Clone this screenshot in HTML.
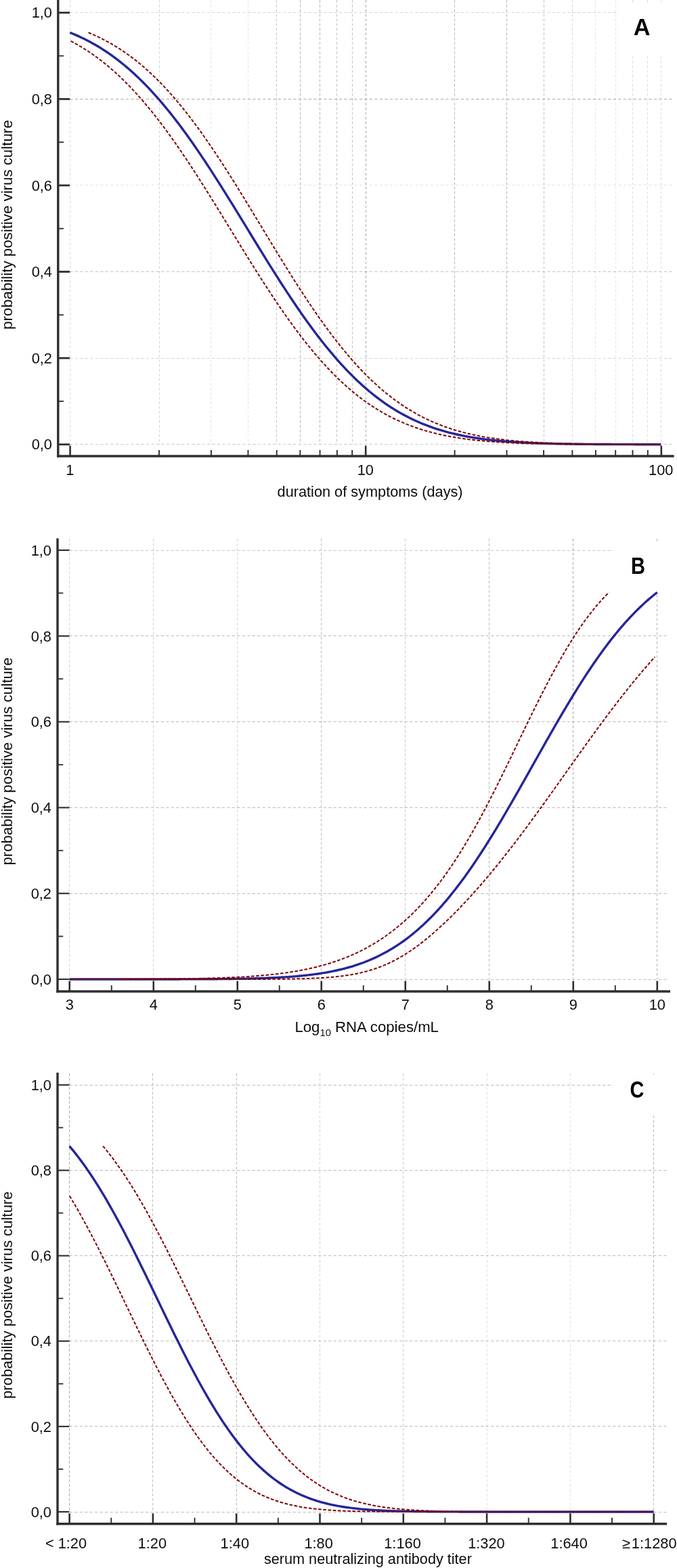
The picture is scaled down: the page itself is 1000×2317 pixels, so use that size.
<!DOCTYPE html>
<html lang="en"><head><meta charset="utf-8"><title>Probability of positive virus culture</title>
<style>
html,body{margin:0;padding:0;background:#fff;}
body{width:1000px;height:2317px;overflow:hidden;}
svg{display:block;font-family:"Liberation Sans",Arial,sans-serif;fill:#0c0c0c;}
</style></head><body>
<svg width="1000" height="2317" viewBox="0 0 1000 2317">
<rect width="1000" height="2317" fill="#fff"/>
<line x1="103.30" y1="656.50" x2="993.50" y2="656.50" stroke="#a8a8a8" stroke-width="1" stroke-dasharray="4.2 3.3" opacity="0.6"/>
<line x1="103.30" y1="529.50" x2="993.50" y2="529.50" stroke="#a8a8a8" stroke-width="1" stroke-dasharray="4.2 3.3" opacity="0.5"/>
<line x1="103.30" y1="401.50" x2="993.50" y2="401.50" stroke="#a8a8a8" stroke-width="1" stroke-dasharray="4.2 3.3" opacity="0.7"/>
<line x1="103.30" y1="273.50" x2="993.50" y2="273.50" stroke="#a8a8a8" stroke-width="1" stroke-dasharray="4.2 3.3" opacity="0.3"/>
<line x1="103.30" y1="146.50" x2="993.50" y2="146.50" stroke="#a8a8a8" stroke-width="1" stroke-dasharray="4.2 3.3" opacity="1"/>
<line x1="103.30" y1="18.50" x2="993.50" y2="18.50" stroke="#a8a8a8" stroke-width="1" stroke-dasharray="4.2 3.3" opacity="0.5"/>
<line x1="103.50" y1="0.00" x2="103.50" y2="656.75" stroke="#a8a8a8" stroke-width="1" stroke-dasharray="3.9 3" opacity="0.4"/>
<line x1="235.50" y1="0.00" x2="235.50" y2="656.75" stroke="#a8a8a8" stroke-width="1" stroke-dasharray="3.9 3" opacity="0.5"/>
<line x1="311.50" y1="0.00" x2="311.50" y2="656.75" stroke="#a8a8a8" stroke-width="1" stroke-dasharray="3.9 3" opacity="0.3"/>
<line x1="366.50" y1="0.00" x2="366.50" y2="656.75" stroke="#a8a8a8" stroke-width="1" stroke-dasharray="3.9 3" opacity="0.3"/>
<line x1="408.50" y1="0.00" x2="408.50" y2="656.75" stroke="#a8a8a8" stroke-width="1" stroke-dasharray="3.9 3" opacity="0.7"/>
<line x1="443.50" y1="0.00" x2="443.50" y2="656.75" stroke="#a8a8a8" stroke-width="1" stroke-dasharray="3.9 3" opacity="0.85"/>
<line x1="472.50" y1="0.00" x2="472.50" y2="656.75" stroke="#a8a8a8" stroke-width="1" stroke-dasharray="3.9 3" opacity="0.85"/>
<line x1="497.50" y1="0.00" x2="497.50" y2="656.75" stroke="#a8a8a8" stroke-width="1" stroke-dasharray="3.9 3" opacity="0.7"/>
<line x1="520.50" y1="0.00" x2="520.50" y2="656.75" stroke="#a8a8a8" stroke-width="1" stroke-dasharray="3.9 3" opacity="0.7"/>
<line x1="540.50" y1="0.00" x2="540.50" y2="656.75" stroke="#a8a8a8" stroke-width="1" stroke-dasharray="3.9 3" opacity="1"/>
<line x1="671.50" y1="0.00" x2="671.50" y2="656.75" stroke="#a8a8a8" stroke-width="1" stroke-dasharray="3.9 3" opacity="0.85"/>
<line x1="748.50" y1="0.00" x2="748.50" y2="656.75" stroke="#a8a8a8" stroke-width="1" stroke-dasharray="3.9 3" opacity="0.85"/>
<line x1="803.50" y1="0.00" x2="803.50" y2="656.75" stroke="#a8a8a8" stroke-width="1" stroke-dasharray="3.9 3" opacity="0.7"/>
<line x1="845.50" y1="0.00" x2="845.50" y2="656.75" stroke="#a8a8a8" stroke-width="1" stroke-dasharray="3.9 3" opacity="0.45"/>
<line x1="879.50" y1="0.00" x2="879.50" y2="656.75" stroke="#a8a8a8" stroke-width="1" stroke-dasharray="3.9 3" opacity="0.3"/>
<line x1="909.50" y1="0.00" x2="909.50" y2="656.75" stroke="#a8a8a8" stroke-width="1" stroke-dasharray="3.9 3" opacity="0.3"/>
<line x1="934.50" y1="0.00" x2="934.50" y2="656.75" stroke="#a8a8a8" stroke-width="1" stroke-dasharray="3.9 3" opacity="0.4"/>
<line x1="956.50" y1="0.00" x2="956.50" y2="656.75" stroke="#a8a8a8" stroke-width="1" stroke-dasharray="3.9 3" opacity="0.4"/>
<line x1="976.50" y1="0.00" x2="976.50" y2="656.75" stroke="#a8a8a8" stroke-width="1" stroke-dasharray="3.9 3" opacity="0.4"/>
<rect x="912" y="4" width="88" height="75.5" fill="#fff"/>
<polyline points="103.30,48.16 106.67,49.52 110.04,50.93 113.41,52.39 116.78,53.91 120.15,55.47 123.52,57.09 126.89,58.77 130.27,60.51 133.64,62.30 137.01,64.15 140.38,66.06 143.75,68.03 147.12,70.06 150.49,72.16 153.86,74.32 157.23,76.54 160.60,78.83 163.97,81.19 167.34,83.61 170.71,86.10 174.08,88.66 177.45,91.29 180.83,93.99 184.20,96.75 187.57,99.59 190.94,102.50 194.31,105.48 197.68,108.54 201.05,111.66 204.42,114.86 207.79,118.13 211.16,121.47 214.53,124.89 217.90,128.37 221.27,131.93 224.64,135.56 228.01,139.27 231.38,143.04 234.76,146.89 238.13,150.81 241.50,154.79 244.87,158.85 248.24,162.97 251.61,167.17 254.98,171.43 258.35,175.75 261.72,180.14 265.09,184.59 268.46,189.11 271.83,193.69 275.20,198.33 278.57,203.02 281.94,207.78 285.32,212.58 288.69,217.45 292.06,222.36 295.43,227.33 298.80,232.34 302.17,237.40 305.54,242.50 308.91,247.65 312.28,252.84 315.65,258.07 319.02,263.33 322.39,268.62 325.76,273.95 329.13,279.31 332.50,284.69 335.88,290.10 339.25,295.53 342.62,300.98 345.99,306.45 349.36,311.93 352.73,317.43 356.10,322.93 359.47,328.44 362.84,333.96 366.21,339.47 369.58,344.99 372.95,350.50 376.32,356.01 379.69,361.51 383.06,367.00 386.44,372.47 389.81,377.93 393.18,383.37 396.55,388.78 399.92,394.18 403.29,399.54 406.66,404.88 410.03,410.19 413.40,415.47 416.77,420.71 420.14,425.91 423.51,431.07 426.88,436.19 430.25,441.27 433.62,446.30 436.99,451.28 440.37,456.22 443.74,461.10 447.11,465.93 450.48,470.70 453.85,475.42 457.22,480.08 460.59,484.68 463.96,489.22 467.33,493.70 470.70,498.11 474.07,502.46 477.44,506.74 480.81,510.96 484.18,515.11 487.55,519.19 490.93,523.21 494.30,527.15 497.67,531.02 501.04,534.82 504.41,538.56 507.78,542.21 511.15,545.80 514.52,549.32 517.89,552.76 521.26,556.13 524.63,559.42 528.00,562.65 531.37,565.80 534.74,568.88 538.11,571.89 541.49,574.83 544.86,577.69 548.23,580.48 551.60,583.21 554.97,585.86 558.34,588.45 561.71,590.96 565.08,593.41 568.45,595.79 571.82,598.11 575.19,600.35 578.56,602.54 581.93,604.66 585.30,606.71 588.67,608.71 592.05,610.64 595.42,612.51 598.79,614.33 602.16,616.08 605.53,617.78 608.90,619.43 612.27,621.01 615.64,622.55 619.01,624.03 622.38,625.46 625.75,626.84 629.12,628.17 632.49,629.45 635.86,630.69 639.23,631.88 642.61,633.02 645.98,634.12 649.35,635.18 652.72,636.20 656.09,637.18 659.46,638.12 662.83,639.02 666.20,639.88 669.57,640.71 672.94,641.51 676.31,642.27 679.68,643.00 683.05,643.70 686.42,644.36 689.79,645.00 693.16,645.61 696.54,646.20 699.91,646.75 703.28,647.28 706.65,647.79 710.02,648.27 713.39,648.73 716.76,649.17 720.13,649.59 723.50,649.99 726.87,650.37 730.24,650.73 733.61,651.07 736.98,651.39 740.35,651.70 743.72,651.99 747.10,652.27 750.47,652.53 753.84,652.78 757.21,653.02 760.58,653.24 763.95,653.45 767.32,653.65 770.69,653.84 774.06,654.02 777.43,654.19 780.80,654.35 784.17,654.50 787.54,654.64 790.91,654.78 794.28,654.90 797.66,655.02 801.03,655.14 804.40,655.24 807.77,655.34 811.14,655.43 814.51,655.52 817.88,655.60 821.25,655.68 824.62,655.75 827.99,655.82 831.36,655.88 834.73,655.94 838.10,656.00 841.47,656.05 844.84,656.10 848.22,656.15 851.59,656.19 854.96,656.23 858.33,656.27 861.70,656.30 865.07,656.33 868.44,656.36 871.81,656.39 875.18,656.42 878.55,656.44 881.92,656.47 885.29,656.49 888.66,656.51 892.03,656.53 895.40,656.54 898.77,656.56 902.15,656.57 905.52,656.59 908.89,656.60 912.26,656.61 915.63,656.62 919.00,656.63 922.37,656.64 925.74,656.65 929.11,656.66 932.48,656.67 935.85,656.67 939.22,656.68 942.59,656.68 945.96,656.69 949.33,656.70 952.71,656.70 956.08,656.70 959.45,656.71 962.82,656.71 966.19,656.71 969.56,656.72 972.93,656.72 976.30,656.72" fill="none" stroke="#262699" stroke-width="3.4" stroke-linejoin="round" />
<polyline points="104.49,60.57 107.93,62.40 111.38,64.29 114.83,66.25 118.28,68.27 121.72,70.35 125.17,72.50 128.62,74.71 132.07,77.00 135.51,79.35 138.96,81.77 142.41,84.26 145.86,86.82 149.30,89.45 152.75,92.15 156.20,94.93 159.65,97.78 163.09,100.70 166.54,103.70 169.99,106.77 173.43,109.92 176.88,113.14 180.33,116.44 183.78,119.82 187.22,123.26 190.67,126.79 194.12,130.39 197.56,134.06 201.01,137.81 204.46,141.64 207.90,145.54 211.35,149.51 214.80,153.56 218.24,157.67 221.69,161.86 225.14,166.12 228.58,170.45 232.03,174.85 235.48,179.32 238.92,183.85 242.37,188.45 245.82,193.12 249.26,197.84 252.71,202.63 256.15,207.48 259.60,212.38 263.05,217.34 266.49,222.35 269.94,227.42 273.39,232.54 276.83,237.70 280.28,242.92 283.72,248.17 287.17,253.47 290.62,258.81 294.06,264.19 297.51,269.60 300.95,275.04 304.40,280.51 307.85,286.01 311.29,291.54 314.74,297.09 318.18,302.65 321.63,308.24 325.07,313.84 328.52,319.45 331.96,325.07 335.41,330.69 338.86,336.32 342.30,341.95 345.75,347.58 349.19,353.20 352.64,358.82 356.08,364.42 359.53,370.02 362.97,375.59 366.42,381.15 369.86,386.69 373.31,392.20 376.75,397.69 380.20,403.15 383.64,408.57 387.09,413.97 390.53,419.32 393.98,424.64 397.42,429.92 400.87,435.16 404.31,440.35 407.76,445.49 411.20,450.58 414.65,455.62 418.09,460.61 421.54,465.54 424.98,470.42 428.43,475.24 431.87,479.99 435.31,484.69 438.76,489.32 442.20,493.89 445.65,498.39 449.09,502.82 452.54,507.19 455.98,511.48 459.42,515.71 462.87,519.86 466.31,523.95 469.76,527.96 473.20,531.89 476.64,535.75 480.09,539.54 483.53,543.26 486.98,546.89 490.42,550.46 493.86,553.94 497.31,557.36 500.75,560.69 504.20,563.95 507.64,567.14 511.08,570.25 514.53,573.29 517.97,576.25 521.41,579.13 524.86,581.95 528.30,584.69 531.74,587.36 535.19,589.95 538.63,592.48 542.07,594.93 545.52,597.32 548.96,599.64 552.40,601.88 555.85,604.07 559.29,606.18 562.73,608.23 566.18,610.22 569.62,612.15 573.06,614.01 576.51,615.81 579.95,617.55 583.39,619.23 586.83,620.86 590.28,622.43 593.72,623.95 597.16,625.41 600.61,626.82 604.05,628.18 607.49,629.48 610.93,630.74 614.38,631.95 617.82,633.12 621.26,634.24 624.70,635.31 628.15,636.35 631.59,637.34 635.03,638.29 638.47,639.20 641.92,640.08 645.36,640.92 648.80,641.72 652.24,642.49 655.68,643.22 659.13,643.92 662.57,644.59 666.01,645.23 669.45,645.85 672.89,646.43 676.34,646.99 679.78,647.52 683.22,648.02 686.66,648.51 690.10,648.96 693.55,649.40 696.99,649.81 700.43,650.21 703.87,650.58 707.31,650.94 710.75,651.28 714.20,651.60 717.64,651.90 721.08,652.19 724.52,652.46 727.96,652.72 731.40,652.96 734.84,653.20 738.29,653.41 741.73,653.62 745.17,653.82 748.61,654.00 752.05,654.17 755.49,654.34 758.93,654.49 762.37,654.64 765.81,654.77 769.25,654.90 772.70,655.02 776.14,655.14 779.58,655.25 783.02,655.35 786.46,655.44 789.90,655.53 793.34,655.61 796.78,655.69 800.22,655.76 803.66,655.83 807.10,655.90 810.54,655.96 813.98,656.01 817.42,656.07 820.86,656.11 824.30,656.16 827.74,656.20 831.18,656.24 834.63,656.28 838.07,656.31 841.51,656.35 844.95,656.38 848.39,656.40 851.83,656.43 855.27,656.45 858.71,656.48 862.15,656.50 865.59,656.52 869.03,656.54 872.47,656.55 875.90,656.57 879.34,656.58 882.78,656.60 886.22,656.61 889.66,656.62 893.10,656.63 896.54,656.64 899.98,656.65 903.42,656.66 906.86,656.66 910.30,656.67 913.74,656.68 917.18,656.68 920.62,656.69 924.06,656.69 927.50,656.70 930.94,656.70 934.38,656.71 937.81,656.71 941.25,656.71 944.69,656.72 948.13,656.72 951.57,656.72 955.01,656.73 958.45,656.73 961.89,656.73 965.33,656.73 968.76,656.73 972.20,656.73 975.64,656.74" fill="none" stroke="#800000" stroke-width="2" stroke-linejoin="round" stroke-dasharray="4.7 2.5"/>
<polyline points="130.50,48.16 133.80,49.52 137.09,50.93 140.39,52.39 143.68,53.91 146.98,55.47 150.28,57.09 153.57,58.77 156.87,60.51 160.17,62.30 163.47,64.15 166.77,66.06 170.06,68.03 173.36,70.06 176.66,72.16 179.96,74.32 183.26,76.54 186.56,78.83 189.87,81.19 193.17,83.61 196.47,86.10 199.77,88.66 203.08,91.29 206.38,93.99 209.68,96.75 212.99,99.59 216.29,102.50 219.60,105.48 222.90,108.54 226.21,111.66 229.52,114.86 232.82,118.13 236.13,121.47 239.44,124.89 242.75,128.37 246.06,131.93 249.37,135.56 252.68,139.27 255.99,143.04 259.30,146.89 262.61,150.81 265.92,154.79 269.23,158.85 272.54,162.97 275.86,167.17 279.17,171.43 282.49,175.75 285.80,180.14 289.12,184.59 292.43,189.11 295.75,193.69 299.07,198.33 302.38,203.02 305.70,207.78 309.02,212.58 312.34,217.45 315.66,222.36 318.98,227.33 322.30,232.34 325.62,237.40 328.94,242.50 332.27,247.65 335.59,252.84 338.91,258.07 342.24,263.33 345.56,268.62 348.89,273.95 352.21,279.31 355.54,284.69 358.87,290.10 362.19,295.53 365.52,300.98 368.85,306.45 372.18,311.93 375.51,317.43 378.84,322.93 382.17,328.44 385.50,333.96 388.84,339.47 392.17,344.99 395.50,350.50 398.84,356.01 402.17,361.51 405.51,367.00 408.85,372.47 412.18,377.93 415.52,383.37 418.86,388.78 422.20,394.18 425.54,399.54 428.88,404.88 432.22,410.19 435.56,415.47 438.90,420.71 442.25,425.91 445.59,431.07 448.93,436.19 452.28,441.27 455.62,446.30 458.97,451.28 462.32,456.22 465.67,461.10 469.01,465.93 472.36,470.70 475.71,475.42 479.06,480.08 482.41,484.68 485.77,489.22 489.12,493.70 492.47,498.11 495.83,502.46 499.18,506.74 502.54,510.96 505.89,515.11 509.25,519.19 512.61,523.21 515.96,527.15 519.32,531.02 522.68,534.82 526.04,538.56 529.40,542.21 532.77,545.80 536.13,549.32 539.49,552.76 542.86,556.13 546.22,559.42 549.59,562.65 552.95,565.80 556.32,568.88 559.69,571.89 563.06,574.83 566.42,577.69 569.79,580.48 573.16,583.21 576.54,585.86 579.91,588.45 583.28,590.96 586.65,593.41 590.03,595.79 593.40,598.11 596.78,600.35 600.15,602.54 603.53,604.66 606.91,606.71 610.29,608.71 613.67,610.64 617.05,612.51 620.43,614.33 623.81,616.08 627.19,617.78 630.57,619.43 633.96,621.01 637.34,622.55 640.72,624.03 644.11,625.46 647.50,626.84 650.88,628.17 654.27,629.45 657.66,630.69 661.05,631.88 664.44,633.02 667.83,634.12 671.22,635.18 674.61,636.20 678.00,637.18 681.40,638.12 684.79,639.02 688.19,639.88 691.58,640.71 694.98,641.51 698.37,642.27 701.77,643.00 705.17,643.70 708.57,644.36 711.97,645.00 715.37,645.61 718.77,646.20 722.17,646.75 725.57,647.28 728.97,647.79 732.38,648.27 735.78,648.73 739.18,649.17 742.59,649.59 746.00,649.99 749.40,650.37 752.81,650.73 756.22,651.07 759.62,651.39 763.03,651.70 766.44,651.99 769.85,652.27 773.26,652.53 776.68,652.78 780.09,653.02 783.50,653.24 786.91,653.45 790.33,653.65 793.74,653.84 797.16,654.02 800.57,654.19 803.99,654.35 807.41,654.50 810.82,654.64 814.24,654.78 817.66,654.90 821.08,655.02 824.50,655.14 827.92,655.24 831.34,655.34 834.76,655.43 838.18,655.52 841.60,655.60 845.03,655.68 848.45,655.75 851.88,655.82 855.30,655.88 858.72,655.94 862.15,656.00 865.58,656.05 869.00,656.10 872.43,656.15 875.86,656.19 879.29,656.23 882.72,656.27 886.14,656.30 889.57,656.33 893.00,656.36 896.43,656.39 899.87,656.42 903.30,656.44 906.73,656.47 910.16,656.49 913.60,656.51 917.03,656.53 920.46,656.54 923.90,656.56 927.33,656.57 930.77,656.59 934.20,656.60 937.64,656.61 941.08,656.62 944.51,656.63 947.95,656.64 951.39,656.65 954.83,656.66 958.27,656.67 961.71,656.67 965.15,656.68 968.59,656.68 972.03,656.69 975.47,656.70" fill="none" stroke="#800000" stroke-width="2" stroke-linejoin="round" stroke-dasharray="4.7 2.5"/>
<line x1="85.80" y1="0.00" x2="85.80" y2="675.70" stroke="#2e2e2e" stroke-width="3.4" />
<line x1="84.10" y1="674.00" x2="995.60" y2="674.00" stroke="#2e2e2e" stroke-width="3.4" />
<line x1="85.80" y1="656.75" x2="103.10" y2="656.75" stroke="#2e2e2e" stroke-width="2.8" />
<text x="77.00" y="664.45" text-anchor="end" font-size="21.8" >0,0</text>
<line x1="85.80" y1="529.15" x2="103.10" y2="529.15" stroke="#2e2e2e" stroke-width="2.8" />
<text x="77.00" y="536.85" text-anchor="end" font-size="21.8" >0,2</text>
<line x1="85.80" y1="401.55" x2="103.10" y2="401.55" stroke="#2e2e2e" stroke-width="2.8" />
<text x="77.00" y="409.25" text-anchor="end" font-size="21.8" >0,4</text>
<line x1="85.80" y1="273.95" x2="103.10" y2="273.95" stroke="#2e2e2e" stroke-width="2.8" />
<text x="77.00" y="281.65" text-anchor="end" font-size="21.8" >0,6</text>
<line x1="85.80" y1="146.35" x2="103.10" y2="146.35" stroke="#2e2e2e" stroke-width="2.8" />
<text x="77.00" y="154.05" text-anchor="end" font-size="21.8" >0,8</text>
<line x1="85.80" y1="18.75" x2="103.10" y2="18.75" stroke="#2e2e2e" stroke-width="2.8" />
<text x="77.00" y="26.45" text-anchor="end" font-size="21.8" >1,0</text>
<line x1="85.80" y1="592.95" x2="94.10" y2="592.95" stroke="#2e2e2e" stroke-width="1.8" />
<line x1="85.80" y1="465.35" x2="94.10" y2="465.35" stroke="#2e2e2e" stroke-width="1.8" />
<line x1="85.80" y1="337.75" x2="94.10" y2="337.75" stroke="#2e2e2e" stroke-width="1.8" />
<line x1="85.80" y1="210.15" x2="94.10" y2="210.15" stroke="#2e2e2e" stroke-width="1.8" />
<line x1="85.80" y1="82.55" x2="94.10" y2="82.55" stroke="#2e2e2e" stroke-width="1.8" />
<line x1="103.60" y1="658.50" x2="103.60" y2="674.00" stroke="#2e2e2e" stroke-width="2.6" />
<line x1="540.20" y1="658.50" x2="540.20" y2="674.00" stroke="#2e2e2e" stroke-width="2.6" />
<line x1="976.80" y1="658.50" x2="976.80" y2="674.00" stroke="#2e2e2e" stroke-width="2.6" />
<line x1="235.03" y1="665.00" x2="235.03" y2="674.00" stroke="#2e2e2e" stroke-width="1.9" />
<line x1="311.91" y1="665.00" x2="311.91" y2="674.00" stroke="#2e2e2e" stroke-width="1.9" />
<line x1="366.46" y1="665.00" x2="366.46" y2="674.00" stroke="#2e2e2e" stroke-width="1.9" />
<line x1="408.77" y1="665.00" x2="408.77" y2="674.00" stroke="#2e2e2e" stroke-width="1.9" />
<line x1="443.34" y1="665.00" x2="443.34" y2="674.00" stroke="#2e2e2e" stroke-width="1.9" />
<line x1="472.57" y1="665.00" x2="472.57" y2="674.00" stroke="#2e2e2e" stroke-width="1.9" />
<line x1="497.89" y1="665.00" x2="497.89" y2="674.00" stroke="#2e2e2e" stroke-width="1.9" />
<line x1="520.22" y1="665.00" x2="520.22" y2="674.00" stroke="#2e2e2e" stroke-width="1.9" />
<line x1="671.63" y1="665.00" x2="671.63" y2="674.00" stroke="#2e2e2e" stroke-width="1.9" />
<line x1="748.51" y1="665.00" x2="748.51" y2="674.00" stroke="#2e2e2e" stroke-width="1.9" />
<line x1="803.06" y1="665.00" x2="803.06" y2="674.00" stroke="#2e2e2e" stroke-width="1.9" />
<line x1="845.37" y1="665.00" x2="845.37" y2="674.00" stroke="#2e2e2e" stroke-width="1.9" />
<line x1="879.94" y1="665.00" x2="879.94" y2="674.00" stroke="#2e2e2e" stroke-width="1.9" />
<line x1="909.17" y1="665.00" x2="909.17" y2="674.00" stroke="#2e2e2e" stroke-width="1.9" />
<line x1="934.49" y1="665.00" x2="934.49" y2="674.00" stroke="#2e2e2e" stroke-width="1.9" />
<line x1="956.82" y1="665.00" x2="956.82" y2="674.00" stroke="#2e2e2e" stroke-width="1.9" />
<text x="103.30" y="702.30" text-anchor="middle" font-size="21.8" >1</text>
<text x="539.80" y="702.30" text-anchor="middle" font-size="21.8" >10</text>
<text x="976.30" y="702.30" text-anchor="middle" font-size="21.8" >100</text>
<text transform="translate(18.3,332.2) rotate(-90)" text-anchor="middle" font-size="21.8" textLength="309.6" lengthAdjust="spacingAndGlyphs">probability positive virus culture</text>
<text x="546.6" y="734.2" text-anchor="middle" font-size="21.8" textLength="274" lengthAdjust="spacingAndGlyphs">duration of symptoms (days)</text>
<text x="948.1" y="52" text-anchor="middle" font-size="35" font-weight="bold" fill="#000" transform="translate(948.1,0) scale(0.98,1) translate(-948.1,0)">A</text>
<line x1="102.75" y1="1447.50" x2="988.00" y2="1447.50" stroke="#a8a8a8" stroke-width="1" stroke-dasharray="4.2 3.3" opacity="0.75"/>
<line x1="102.75" y1="1320.50" x2="988.00" y2="1320.50" stroke="#a8a8a8" stroke-width="1" stroke-dasharray="4.2 3.3" opacity="0.8"/>
<line x1="102.75" y1="1193.50" x2="988.00" y2="1193.50" stroke="#a8a8a8" stroke-width="1" stroke-dasharray="4.2 3.3" opacity="0.8"/>
<line x1="102.75" y1="1066.50" x2="988.00" y2="1066.50" stroke="#a8a8a8" stroke-width="1" stroke-dasharray="4.2 3.3" opacity="0.8"/>
<line x1="102.75" y1="939.50" x2="988.00" y2="939.50" stroke="#a8a8a8" stroke-width="1" stroke-dasharray="4.2 3.3" opacity="0.8"/>
<line x1="102.75" y1="813.50" x2="988.00" y2="813.50" stroke="#a8a8a8" stroke-width="1" stroke-dasharray="4.2 3.3" opacity="0.65"/>
<line x1="102.50" y1="796.00" x2="102.50" y2="1447.00" stroke="#a8a8a8" stroke-width="1" stroke-dasharray="3.9 3" opacity="0.5"/>
<line x1="226.50" y1="796.00" x2="226.50" y2="1447.00" stroke="#a8a8a8" stroke-width="1" stroke-dasharray="3.9 3" opacity="0.5"/>
<line x1="350.50" y1="796.00" x2="350.50" y2="1447.00" stroke="#a8a8a8" stroke-width="1" stroke-dasharray="3.9 3" opacity="0.5"/>
<line x1="474.50" y1="796.00" x2="474.50" y2="1447.00" stroke="#a8a8a8" stroke-width="1" stroke-dasharray="3.9 3" opacity="0.75"/>
<line x1="598.50" y1="796.00" x2="598.50" y2="1447.00" stroke="#a8a8a8" stroke-width="1" stroke-dasharray="3.9 3" opacity="0.6"/>
<line x1="722.50" y1="796.00" x2="722.50" y2="1447.00" stroke="#a8a8a8" stroke-width="1" stroke-dasharray="3.9 3" opacity="0.75"/>
<line x1="846.50" y1="796.00" x2="846.50" y2="1447.00" stroke="#a8a8a8" stroke-width="1" stroke-dasharray="3.9 3" opacity="1"/>
<line x1="970.50" y1="796.00" x2="970.50" y2="1447.00" stroke="#a8a8a8" stroke-width="1" stroke-dasharray="3.9 3" opacity="0.85"/>
<rect x="906" y="800" width="94" height="77" fill="#fff"/>
<polyline points="102.75,1447.00 106.10,1447.00 109.45,1447.00 112.80,1447.00 116.16,1447.00 119.51,1447.00 122.86,1447.00 126.21,1447.00 129.56,1447.00 132.91,1447.00 136.26,1447.00 139.61,1447.00 142.97,1447.00 146.32,1447.00 149.67,1447.00 153.02,1447.00 156.37,1447.00 159.72,1447.00 163.07,1447.00 166.43,1447.00 169.78,1447.00 173.13,1447.00 176.48,1446.99 179.83,1446.99 183.18,1446.99 186.53,1446.99 189.89,1446.99 193.24,1446.99 196.59,1446.99 199.94,1446.99 203.29,1446.99 206.64,1446.99 209.99,1446.98 213.34,1446.98 216.70,1446.98 220.05,1446.98 223.40,1446.98 226.75,1446.97 230.10,1446.97 233.45,1446.97 236.80,1446.97 240.16,1446.96 243.51,1446.96 246.86,1446.95 250.21,1446.95 253.56,1446.95 256.91,1446.94 260.26,1446.93 263.61,1446.93 266.97,1446.92 270.32,1446.91 273.67,1446.91 277.02,1446.90 280.37,1446.89 283.72,1446.88 287.07,1446.86 290.43,1446.85 293.78,1446.84 297.13,1446.82 300.48,1446.81 303.83,1446.79 307.18,1446.77 310.53,1446.75 313.89,1446.73 317.24,1446.70 320.59,1446.68 323.94,1446.65 327.29,1446.62 330.64,1446.59 333.99,1446.55 337.34,1446.51 340.70,1446.47 344.05,1446.43 347.40,1446.38 350.75,1446.33 354.10,1446.27 357.45,1446.21 360.80,1446.15 364.16,1446.08 367.51,1446.01 370.86,1445.93 374.21,1445.85 377.56,1445.76 380.91,1445.66 384.26,1445.56 387.61,1445.45 390.97,1445.33 394.32,1445.20 397.67,1445.07 401.02,1444.93 404.37,1444.77 407.72,1444.61 411.07,1444.44 414.43,1444.25 417.78,1444.06 421.13,1443.85 424.48,1443.63 427.83,1443.39 431.18,1443.14 434.53,1442.88 437.89,1442.59 441.24,1442.30 444.59,1441.98 447.94,1441.65 451.29,1441.29 454.64,1440.92 457.99,1440.52 461.34,1440.11 464.70,1439.66 468.05,1439.20 471.40,1438.71 474.75,1438.19 478.10,1437.65 481.45,1437.08 484.80,1436.47 488.16,1435.84 491.51,1435.17 494.86,1434.48 498.21,1433.74 501.56,1432.97 504.91,1432.16 508.26,1431.32 511.61,1430.43 514.97,1429.50 518.32,1428.53 521.67,1427.51 525.02,1426.45 528.37,1425.34 531.72,1424.19 535.07,1422.98 538.43,1421.72 541.78,1420.41 545.13,1419.04 548.48,1417.62 551.83,1416.14 555.18,1414.60 558.53,1413.00 561.89,1411.34 565.24,1409.61 568.59,1407.82 571.94,1405.96 575.29,1404.04 578.64,1402.05 581.99,1399.98 585.34,1397.85 588.70,1395.64 592.05,1393.36 595.40,1391.00 598.75,1388.57 602.10,1386.06 605.45,1383.47 608.80,1380.80 612.16,1378.05 615.51,1375.22 618.86,1372.31 622.21,1369.31 625.56,1366.24 628.91,1363.07 632.26,1359.83 635.61,1356.50 638.97,1353.08 642.32,1349.58 645.67,1346.00 649.02,1342.32 652.37,1338.57 655.72,1334.73 659.07,1330.80 662.43,1326.79 665.78,1322.69 669.13,1318.51 672.48,1314.25 675.83,1309.91 679.18,1305.48 682.53,1300.98 685.89,1296.39 689.24,1291.73 692.59,1286.99 695.94,1282.18 699.29,1277.29 702.64,1272.33 705.99,1267.30 709.34,1262.21 712.70,1257.04 716.05,1251.81 719.40,1246.52 722.75,1241.17 726.10,1235.76 729.45,1230.30 732.80,1224.78 736.16,1219.21 739.51,1213.60 742.86,1207.94 746.21,1202.24 749.56,1196.50 752.91,1190.72 756.26,1184.91 759.61,1179.07 762.97,1173.20 766.32,1167.31 769.67,1161.40 773.02,1155.47 776.37,1149.53 779.72,1143.58 783.07,1137.61 786.43,1131.65 789.78,1125.68 793.13,1119.72 796.48,1113.76 799.83,1107.81 803.18,1101.87 806.53,1095.95 809.89,1090.05 813.24,1084.17 816.59,1078.31 819.94,1072.49 823.29,1066.69 826.64,1060.93 829.99,1055.21 833.34,1049.53 836.70,1043.89 840.05,1038.29 843.40,1032.75 846.75,1027.25 850.10,1021.81 853.45,1016.43 856.80,1011.10 860.16,1005.84 863.51,1000.64 866.86,995.51 870.21,990.44 873.56,985.44 876.91,980.51 880.26,975.66 883.61,970.88 886.97,966.17 890.32,961.55 893.67,957.00 897.02,952.53 900.37,948.14 903.72,943.83 907.07,939.61 910.43,935.46 913.78,931.41 917.13,927.43 920.48,923.54 923.83,919.74 927.18,916.02 930.53,912.39 933.89,908.84 937.24,905.38 940.59,902.00 943.94,898.71 947.29,895.50 950.64,892.38 953.99,889.34 957.34,886.38 960.70,883.50 964.05,880.71 967.40,878.00 970.75,875.36" fill="none" stroke="#262699" stroke-width="3.4" stroke-linejoin="round" />
<polyline points="104.63,1446.98 108.72,1446.98 112.80,1446.98 116.89,1446.97 120.97,1446.97 125.06,1446.97 129.14,1446.97 133.22,1446.96 137.31,1446.96 141.39,1446.95 145.47,1446.95 149.55,1446.95 153.63,1446.94 157.71,1446.93 161.79,1446.93 165.87,1446.92 169.95,1446.91 174.03,1446.91 178.11,1446.90 182.19,1446.89 186.26,1446.88 190.34,1446.86 194.42,1446.85 198.49,1446.84 202.56,1446.82 206.64,1446.81 210.71,1446.79 214.78,1446.77 218.86,1446.75 222.93,1446.73 227.00,1446.70 231.07,1446.68 235.13,1446.65 239.20,1446.62 243.27,1446.59 247.34,1446.55 251.40,1446.51 255.47,1446.47 259.53,1446.43 263.59,1446.38 267.65,1446.33 271.71,1446.27 275.77,1446.21 279.83,1446.15 283.89,1446.08 287.95,1446.01 292.00,1445.93 296.06,1445.85 300.11,1445.76 304.16,1445.66 308.21,1445.56 312.26,1445.45 316.31,1445.33 320.36,1445.20 324.40,1445.07 328.45,1444.93 332.49,1444.77 336.53,1444.61 340.57,1444.44 344.61,1444.25 348.65,1444.06 352.68,1443.85 356.72,1443.63 360.75,1443.39 364.78,1443.14 368.80,1442.88 372.83,1442.59 376.85,1442.30 380.87,1441.98 384.89,1441.65 388.91,1441.29 392.93,1440.92 396.94,1440.52 400.95,1440.11 404.96,1439.66 408.96,1439.20 412.96,1438.71 416.96,1438.19 420.96,1437.65 424.96,1437.08 428.95,1436.47 432.93,1435.84 436.92,1435.17 440.90,1434.48 444.88,1433.74 448.85,1432.97 452.82,1432.16 456.79,1431.32 460.75,1430.43 464.71,1429.50 468.66,1428.53 472.61,1427.51 476.55,1426.45 480.49,1425.34 484.43,1424.19 488.36,1422.98 492.28,1421.72 496.20,1420.41 500.11,1419.04 504.02,1417.62 507.92,1416.14 511.81,1414.60 515.70,1413.00 519.58,1411.34 523.45,1409.61 527.31,1407.82 531.17,1405.96 535.02,1404.04 538.86,1402.05 542.69,1399.98 546.51,1397.85 550.33,1395.64 554.13,1393.36 557.92,1391.00 561.71,1388.57 565.48,1386.06 569.24,1383.47 572.99,1380.80 576.72,1378.05 580.45,1375.22 584.16,1372.31 587.86,1369.31 591.54,1366.24 595.21,1363.07 598.87,1359.83 602.51,1356.50 606.14,1353.08 609.75,1349.58 613.34,1346.00 616.92,1342.32 620.48,1338.57 624.03,1334.73 627.55,1330.80 631.06,1326.79 634.55,1322.69 638.03,1318.51 641.48,1314.25 644.92,1309.91 648.34,1305.48 651.74,1300.98 655.12,1296.39 658.48,1291.73 661.82,1286.99 665.14,1282.18 668.45,1277.29 671.73,1272.33 675.00,1267.30 678.25,1262.21 681.48,1257.04 684.69,1251.81 687.88,1246.52 691.06,1241.17 694.22,1235.76 697.36,1230.30 700.48,1224.78 703.59,1219.21 706.68,1213.60 709.76,1207.94 712.82,1202.24 715.87,1196.50 718.90,1190.72 721.92,1184.91 724.92,1179.07 727.92,1173.20 730.89,1167.31 733.86,1161.40 736.82,1155.47 739.76,1149.53 742.69,1143.58 745.61,1137.61 748.52,1131.65 751.42,1125.68 754.31,1119.72 757.19,1113.76 760.06,1107.81 762.92,1101.87 765.78,1095.95 768.62,1090.05 771.46,1084.17 774.29,1078.31 777.12,1072.49 779.93,1066.69 782.74,1060.93 785.54,1055.21 788.34,1049.53 791.13,1043.89 793.92,1038.29 796.69,1032.75 799.47,1027.25 802.24,1021.81 805.00,1016.43 807.76,1011.10 810.51,1005.84 813.26,1000.64 816.01,995.51 818.75,990.44 821.48,985.44 824.22,980.51 826.95,975.66 829.67,970.88 832.39,966.17 835.11,961.55 837.83,957.00 840.54,952.53 843.25,948.14 845.95,943.83 848.66,939.61 851.36,935.46 854.05,931.41 856.75,927.43 859.44,923.54 862.13,919.74 864.82,916.02 867.51,912.39 870.19,908.84 872.87,905.38 875.55,902.00 878.23,898.71 880.90,895.50 883.57,892.38 886.25,889.34 888.91,886.38 891.58,883.50 894.25,880.71 896.91,878.00 899.58,875.36" fill="none" stroke="#800000" stroke-width="2" stroke-linejoin="round" stroke-dasharray="4.7 2.5"/>
<polyline points="179.13,1447.00 181.30,1447.00 183.47,1447.00 185.64,1447.00 187.80,1447.00 189.97,1447.00 192.14,1447.00 194.31,1447.00 196.48,1447.00 198.64,1447.00 200.81,1447.00 202.98,1447.00 205.15,1447.00 207.32,1447.00 209.49,1447.00 211.65,1447.00 213.82,1447.00 215.99,1447.00 218.16,1447.00 220.33,1447.00 222.50,1447.00 224.67,1447.00 226.84,1447.00 229.01,1447.00 231.18,1447.00 233.35,1447.00 235.52,1447.00 237.69,1447.00 239.86,1447.00 242.03,1447.00 244.20,1447.00 246.37,1447.00 248.54,1447.00 250.71,1447.00 252.89,1447.00 255.06,1447.00 257.23,1447.00 259.40,1447.00 261.57,1447.00 263.75,1447.00 265.92,1447.00 268.09,1447.00 270.26,1447.00 272.44,1447.00 274.61,1447.00 276.78,1447.00 278.96,1447.00 281.13,1447.00 283.30,1447.00 285.48,1447.00 287.65,1447.00 289.82,1447.00 292.00,1447.00 294.17,1447.00 296.35,1447.00 298.52,1447.00 300.70,1447.00 302.88,1447.00 305.05,1447.00 307.23,1447.00 309.40,1447.00 311.58,1447.00 313.76,1447.00 315.93,1446.99 318.11,1446.99 320.29,1446.99 322.47,1446.99 324.65,1446.99 326.82,1446.99 329.00,1446.99 331.18,1446.99 333.36,1446.99 335.54,1446.99 337.72,1446.99 339.90,1446.99 342.08,1446.98 344.26,1446.98 346.44,1446.98 348.63,1446.98 350.81,1446.98 352.99,1446.97 355.17,1446.97 357.36,1446.97 359.54,1446.97 361.72,1446.96 363.91,1446.96 366.09,1446.96 368.28,1446.95 370.46,1446.95 372.65,1446.94 374.84,1446.94 377.02,1446.93 379.21,1446.93 381.40,1446.92 383.59,1446.91 385.78,1446.90 387.97,1446.90 390.16,1446.89 392.35,1446.88 394.54,1446.87 396.73,1446.85 398.92,1446.84 401.11,1446.83 403.31,1446.81 405.50,1446.80 407.70,1446.78 409.89,1446.76 412.09,1446.74 414.29,1446.72 416.48,1446.70 418.68,1446.68 420.88,1446.65 423.08,1446.62 425.28,1446.59 427.49,1446.56 429.69,1446.52 431.89,1446.49 434.10,1446.45 436.30,1446.40 438.51,1446.36 440.72,1446.31 442.92,1446.26 445.13,1446.20 447.35,1446.14 449.56,1446.08 451.77,1446.01 453.98,1445.94 456.20,1445.86 458.42,1445.78 460.64,1445.69 462.86,1445.60 465.08,1445.50 467.30,1445.39 469.52,1445.28 471.75,1445.16 473.98,1445.03 476.21,1444.90 478.44,1444.75 480.67,1444.60 482.90,1444.44 485.14,1444.27 487.38,1444.09 489.62,1443.90 491.86,1443.70 494.11,1443.48 496.36,1443.26 498.61,1443.02 500.86,1442.76 503.12,1442.50 505.37,1442.22 507.64,1441.92 509.90,1441.61 512.17,1441.28 514.44,1440.93 516.71,1440.56 518.99,1440.18 521.27,1439.78 523.56,1439.35 525.85,1438.91 528.14,1438.44 530.44,1437.94 532.74,1437.43 535.05,1436.89 537.36,1436.32 539.68,1435.73 542.00,1435.10 544.33,1434.45 546.67,1433.77 549.01,1433.06 551.36,1432.31 553.71,1431.54 556.08,1430.73 558.45,1429.88 560.83,1429.00 563.22,1428.07 565.61,1427.11 568.02,1426.11 570.44,1425.07 572.86,1423.99 575.30,1422.86 577.75,1421.69 580.21,1420.48 582.69,1419.21 585.17,1417.90 587.68,1416.54 590.19,1415.13 592.73,1413.66 595.27,1412.15 597.84,1410.58 600.42,1408.95 603.03,1407.27 605.65,1405.53 608.29,1403.73 610.96,1401.87 613.65,1399.96 616.36,1397.98 619.09,1395.93 621.85,1393.83 624.64,1391.66 627.45,1389.42 630.29,1387.12 633.16,1384.75 636.06,1382.31 638.98,1379.81 641.94,1377.23 644.93,1374.59 647.95,1371.87 651.00,1369.09 654.09,1366.23 657.20,1363.30 660.35,1360.29 663.53,1357.22 666.74,1354.07 669.98,1350.84 673.25,1347.55 676.55,1344.18 679.88,1340.73 683.24,1337.22 686.63,1333.63 690.05,1329.96 693.49,1326.23 696.96,1322.42 700.45,1318.54 703.97,1314.59 707.51,1310.57 711.07,1306.48 714.65,1302.31 718.25,1298.08 721.88,1293.79 725.52,1289.42 729.18,1285.00 732.85,1280.50 736.55,1275.95 740.25,1271.33 743.98,1266.65 747.71,1261.92 751.46,1257.12 755.22,1252.27 759.00,1247.37 762.78,1242.42 766.58,1237.41 770.39,1232.36 774.20,1227.26 778.03,1222.11 781.86,1216.93 785.70,1211.70 789.56,1206.44 793.41,1201.14 797.28,1195.81 801.15,1190.45 805.03,1185.05 808.92,1179.64 812.81,1174.20 816.71,1168.74 820.61,1163.26 824.52,1157.76 828.43,1152.25 832.35,1146.73 836.27,1141.20 840.20,1135.67 844.13,1130.13 848.07,1124.60 852.01,1119.06 855.95,1113.54 859.90,1108.02 863.85,1102.51 867.80,1097.01 871.76,1091.53 875.72,1086.07 879.68,1080.62 883.64,1075.21 887.61,1069.81 891.58,1064.45 895.55,1059.12 899.53,1053.81 903.50,1048.55 907.48,1043.32 911.46,1038.13 915.45,1032.99 919.43,1027.89 923.42,1022.83 927.41,1017.82 931.40,1012.87 935.39,1007.96 939.39,1003.11 943.38,998.31 947.38,993.58 951.38,988.89 955.38,984.27 959.38,979.72 963.38,975.22 967.39,970.79" fill="none" stroke="#800000" stroke-width="2" stroke-linejoin="round" stroke-dasharray="4.7 2.5"/>
<line x1="85.00" y1="795.50" x2="85.00" y2="1466.70" stroke="#2e2e2e" stroke-width="3.4" />
<line x1="83.30" y1="1465.00" x2="990.00" y2="1465.00" stroke="#2e2e2e" stroke-width="3.4" />
<line x1="85.00" y1="1447.00" x2="102.55" y2="1447.00" stroke="#2e2e2e" stroke-width="2.1" />
<text x="76.00" y="1454.70" text-anchor="end" font-size="21.8" >0,0</text>
<line x1="85.00" y1="1320.20" x2="102.55" y2="1320.20" stroke="#2e2e2e" stroke-width="2.1" />
<text x="76.00" y="1327.90" text-anchor="end" font-size="21.8" >0,2</text>
<line x1="85.00" y1="1193.40" x2="102.55" y2="1193.40" stroke="#2e2e2e" stroke-width="2.1" />
<text x="76.00" y="1201.10" text-anchor="end" font-size="21.8" >0,4</text>
<line x1="85.00" y1="1066.60" x2="102.55" y2="1066.60" stroke="#2e2e2e" stroke-width="2.1" />
<text x="76.00" y="1074.30" text-anchor="end" font-size="21.8" >0,6</text>
<line x1="85.00" y1="939.80" x2="102.55" y2="939.80" stroke="#2e2e2e" stroke-width="2.1" />
<text x="76.00" y="947.50" text-anchor="end" font-size="21.8" >0,8</text>
<line x1="85.00" y1="813.00" x2="102.55" y2="813.00" stroke="#2e2e2e" stroke-width="2.1" />
<text x="76.00" y="820.70" text-anchor="end" font-size="21.8" >1,0</text>
<line x1="85.00" y1="1383.60" x2="93.30" y2="1383.60" stroke="#2e2e2e" stroke-width="1.8" />
<line x1="85.00" y1="1256.80" x2="93.30" y2="1256.80" stroke="#2e2e2e" stroke-width="1.8" />
<line x1="85.00" y1="1130.00" x2="93.30" y2="1130.00" stroke="#2e2e2e" stroke-width="1.8" />
<line x1="85.00" y1="1003.20" x2="93.30" y2="1003.20" stroke="#2e2e2e" stroke-width="1.8" />
<line x1="85.00" y1="876.40" x2="93.30" y2="876.40" stroke="#2e2e2e" stroke-width="1.8" />
<line x1="102.75" y1="1449.50" x2="102.75" y2="1465.00" stroke="#2e2e2e" stroke-width="2.6" />
<line x1="226.75" y1="1449.50" x2="226.75" y2="1465.00" stroke="#2e2e2e" stroke-width="2.6" />
<line x1="350.75" y1="1449.50" x2="350.75" y2="1465.00" stroke="#2e2e2e" stroke-width="2.6" />
<line x1="474.75" y1="1449.50" x2="474.75" y2="1465.00" stroke="#2e2e2e" stroke-width="2.6" />
<line x1="598.75" y1="1449.50" x2="598.75" y2="1465.00" stroke="#2e2e2e" stroke-width="2.6" />
<line x1="722.75" y1="1449.50" x2="722.75" y2="1465.00" stroke="#2e2e2e" stroke-width="2.6" />
<line x1="846.75" y1="1449.50" x2="846.75" y2="1465.00" stroke="#2e2e2e" stroke-width="2.6" />
<line x1="970.75" y1="1449.50" x2="970.75" y2="1465.00" stroke="#2e2e2e" stroke-width="2.6" />
<line x1="164.75" y1="1456.00" x2="164.75" y2="1465.00" stroke="#2e2e2e" stroke-width="1.9" />
<line x1="288.75" y1="1456.00" x2="288.75" y2="1465.00" stroke="#2e2e2e" stroke-width="1.9" />
<line x1="412.75" y1="1456.00" x2="412.75" y2="1465.00" stroke="#2e2e2e" stroke-width="1.9" />
<line x1="536.75" y1="1456.00" x2="536.75" y2="1465.00" stroke="#2e2e2e" stroke-width="1.9" />
<line x1="660.75" y1="1456.00" x2="660.75" y2="1465.00" stroke="#2e2e2e" stroke-width="1.9" />
<line x1="784.75" y1="1456.00" x2="784.75" y2="1465.00" stroke="#2e2e2e" stroke-width="1.9" />
<line x1="908.75" y1="1456.00" x2="908.75" y2="1465.00" stroke="#2e2e2e" stroke-width="1.9" />
<text x="102.75" y="1492.30" text-anchor="middle" font-size="21.8" >3</text>
<text x="226.75" y="1492.30" text-anchor="middle" font-size="21.8" >4</text>
<text x="350.75" y="1492.30" text-anchor="middle" font-size="21.8" >5</text>
<text x="474.75" y="1492.30" text-anchor="middle" font-size="21.8" >6</text>
<text x="598.75" y="1492.30" text-anchor="middle" font-size="21.8" >7</text>
<text x="722.75" y="1492.30" text-anchor="middle" font-size="21.8" >8</text>
<text x="846.75" y="1492.30" text-anchor="middle" font-size="21.8" >9</text>
<text x="970.75" y="1492.30" text-anchor="middle" font-size="21.8" >10</text>
<text transform="translate(18.3,1125) rotate(-90)" text-anchor="middle" font-size="21.8" textLength="307" lengthAdjust="spacingAndGlyphs">probability positive virus culture</text>
<text x="435.4" y="1525" text-anchor="start" font-size="22.2">Log<tspan font-size="14.8" dy="6">10</tspan><tspan dy="-6"> RNA copies/mL</tspan></text>
<text x="942.6" y="847.8" text-anchor="middle" font-size="35" font-weight="bold" fill="#000" transform="translate(942.6,0) scale(0.83,1) translate(-942.6,0)">B</text>
<line x1="102.60" y1="2234.50" x2="986.00" y2="2234.50" stroke="#a8a8a8" stroke-width="1" stroke-dasharray="4.2 3.3" opacity="0.8"/>
<line x1="102.60" y1="2107.50" x2="986.00" y2="2107.50" stroke="#a8a8a8" stroke-width="1" stroke-dasharray="4.2 3.3" opacity="0.8"/>
<line x1="102.60" y1="1981.50" x2="986.00" y2="1981.50" stroke="#a8a8a8" stroke-width="1" stroke-dasharray="4.2 3.3" opacity="0.8"/>
<line x1="102.60" y1="1855.50" x2="986.00" y2="1855.50" stroke="#a8a8a8" stroke-width="1" stroke-dasharray="4.2 3.3" opacity="0.8"/>
<line x1="102.60" y1="1729.50" x2="986.00" y2="1729.50" stroke="#a8a8a8" stroke-width="1" stroke-dasharray="4.2 3.3" opacity="0.8"/>
<line x1="102.60" y1="1603.50" x2="986.00" y2="1603.50" stroke="#a8a8a8" stroke-width="1" stroke-dasharray="4.2 3.3" opacity="0.8"/>
<line x1="102.50" y1="1586.00" x2="102.50" y2="2234.00" stroke="#a8a8a8" stroke-width="1" stroke-dasharray="3.9 3" opacity="1"/>
<line x1="225.50" y1="1586.00" x2="225.50" y2="2234.00" stroke="#a8a8a8" stroke-width="1" stroke-dasharray="3.9 3" opacity="0.75"/>
<line x1="349.50" y1="1586.00" x2="349.50" y2="2234.00" stroke="#a8a8a8" stroke-width="1" stroke-dasharray="3.9 3" opacity="0.85"/>
<line x1="472.50" y1="1586.00" x2="472.50" y2="2234.00" stroke="#a8a8a8" stroke-width="1" stroke-dasharray="3.9 3" opacity="0.5"/>
<line x1="595.50" y1="1586.00" x2="595.50" y2="2234.00" stroke="#a8a8a8" stroke-width="1" stroke-dasharray="3.9 3" opacity="0.6"/>
<line x1="719.50" y1="1586.00" x2="719.50" y2="2234.00" stroke="#a8a8a8" stroke-width="1" stroke-dasharray="3.9 3" opacity="0.35"/>
<line x1="842.50" y1="1586.00" x2="842.50" y2="2234.00" stroke="#a8a8a8" stroke-width="1" stroke-dasharray="3.9 3" opacity="0.35"/>
<line x1="965.50" y1="1586.00" x2="965.50" y2="2234.00" stroke="#a8a8a8" stroke-width="1" stroke-dasharray="3.9 3" opacity="0.85"/>
<rect x="906" y="1588" width="94" height="60.5" fill="#fff"/>
<polyline points="102.60,1693.58 105.93,1697.56 109.26,1701.65 112.60,1705.85 115.93,1710.17 119.26,1714.61 122.59,1719.16 125.93,1723.82 129.26,1728.60 132.59,1733.49 135.92,1738.49 139.26,1743.60 142.59,1748.82 145.92,1754.14 149.25,1759.58 152.59,1765.11 155.92,1770.74 159.25,1776.47 162.58,1782.30 165.92,1788.22 169.25,1794.23 172.58,1800.32 175.91,1806.50 179.25,1812.75 182.58,1819.08 185.91,1825.48 189.24,1831.95 192.58,1838.48 195.91,1845.07 199.24,1851.71 202.57,1858.40 205.91,1865.14 209.24,1871.92 212.57,1878.73 215.90,1885.57 219.24,1892.44 222.57,1899.32 225.90,1906.22 229.23,1913.13 232.56,1920.05 235.90,1926.96 239.23,1933.87 242.56,1940.76 245.89,1947.64 249.23,1954.50 252.56,1961.33 255.89,1968.13 259.22,1974.89 262.56,1981.61 265.89,1988.28 269.22,1994.90 272.55,2001.47 275.89,2007.97 279.22,2014.41 282.55,2020.78 285.88,2027.08 289.22,2033.31 292.55,2039.45 295.88,2045.51 299.21,2051.48 302.55,2057.36 305.88,2063.15 309.21,2068.84 312.54,2074.43 315.88,2079.92 319.21,2085.31 322.54,2090.59 325.87,2095.77 329.21,2100.83 332.54,2105.79 335.87,2110.63 339.20,2115.36 342.54,2119.98 345.87,2124.48 349.20,2128.87 352.53,2133.14 355.86,2137.30 359.20,2141.34 362.53,2145.27 365.86,2149.09 369.19,2152.78 372.53,2156.37 375.86,2159.84 379.19,2163.21 382.52,2166.46 385.86,2169.60 389.19,2172.63 392.52,2175.56 395.85,2178.39 399.19,2181.11 402.52,2183.73 405.85,2186.25 409.18,2188.67 412.52,2191.00 415.85,2193.23 419.18,2195.37 422.51,2197.43 425.85,2199.39 429.18,2201.28 432.51,2203.08 435.84,2204.80 439.18,2206.44 442.51,2208.01 445.84,2209.50 449.17,2210.92 452.51,2212.28 455.84,2213.57 459.17,2214.79 462.50,2215.96 465.84,2217.06 469.17,2218.11 472.50,2219.10 475.83,2220.04 479.16,2220.93 482.50,2221.77 485.83,2222.56 489.16,2223.31 492.49,2224.02 495.83,2224.69 499.16,2225.32 502.49,2225.91 505.82,2226.47 509.16,2226.99 512.49,2227.48 515.82,2227.94 519.15,2228.37 522.49,2228.78 525.82,2229.16 529.15,2229.51 532.48,2229.84 535.82,2230.15 539.15,2230.44 542.48,2230.71 545.81,2230.96 549.15,2231.20 552.48,2231.41 555.81,2231.62 559.14,2231.80 562.48,2231.98 565.81,2232.14 569.14,2232.29 572.47,2232.43 575.81,2232.56 579.14,2232.68 582.47,2232.79 585.80,2232.89 589.14,2232.98 592.47,2233.07 595.80,2233.15 599.13,2233.22 602.46,2233.29 605.80,2233.35 609.13,2233.41 612.46,2233.46 615.79,2233.51 619.13,2233.56 622.46,2233.60 625.79,2233.63 629.12,2233.67 632.46,2233.70 635.79,2233.73 639.12,2233.75 642.45,2233.78 645.79,2233.80 649.12,2233.82 652.45,2233.83 655.78,2233.85 659.12,2233.87 662.45,2233.88 665.78,2233.89 669.11,2233.90 672.45,2233.91 675.78,2233.92 679.11,2233.93 682.44,2233.94 685.78,2233.94 689.11,2233.95 692.44,2233.95 695.77,2233.96 699.11,2233.96 702.44,2233.97 705.77,2233.97 709.10,2233.97 712.44,2233.98 715.77,2233.98 719.10,2233.98 722.43,2233.98 725.76,2233.99 729.10,2233.99 732.43,2233.99 735.76,2233.99 739.09,2233.99 742.43,2233.99 745.76,2233.99 749.09,2233.99 752.42,2233.99 755.76,2234.00 759.09,2234.00 762.42,2234.00 765.75,2234.00 769.09,2234.00 772.42,2234.00 775.75,2234.00 779.08,2234.00 782.42,2234.00 785.75,2234.00 789.08,2234.00 792.41,2234.00 795.75,2234.00 799.08,2234.00 802.41,2234.00 805.74,2234.00 809.08,2234.00 812.41,2234.00 815.74,2234.00 819.07,2234.00 822.41,2234.00 825.74,2234.00 829.07,2234.00 832.40,2234.00 835.74,2234.00 839.07,2234.00 842.40,2234.00 845.73,2234.00 849.06,2234.00 852.40,2234.00 855.73,2234.00 859.06,2234.00 862.39,2234.00 865.73,2234.00 869.06,2234.00 872.39,2234.00 875.72,2234.00 879.06,2234.00 882.39,2234.00 885.72,2234.00 889.05,2234.00 892.39,2234.00 895.72,2234.00 899.05,2234.00 902.38,2234.00 905.72,2234.00 909.05,2234.00 912.38,2234.00 915.71,2234.00 919.05,2234.00 922.38,2234.00 925.71,2234.00 929.04,2234.00 932.38,2234.00 935.71,2234.00 939.04,2234.00 942.37,2234.00 945.71,2234.00 949.04,2234.00 952.37,2234.00 955.70,2234.00 959.04,2234.00 962.37,2234.00 965.70,2234.00" fill="none" stroke="#262699" stroke-width="3.4" stroke-linejoin="round" />
<polyline points="102.79,1767.23 106.18,1772.87 109.57,1778.61 112.96,1784.45 116.34,1790.37 119.72,1796.39 123.09,1802.48 126.46,1808.66 129.83,1814.91 133.20,1821.24 136.56,1827.64 139.91,1834.10 143.27,1840.62 146.61,1847.20 149.96,1853.83 153.30,1860.50 156.64,1867.22 159.97,1873.98 163.30,1880.77 166.63,1887.59 169.95,1894.43 173.27,1901.29 176.58,1908.17 179.89,1915.05 183.20,1921.93 186.50,1928.81 189.80,1935.69 193.10,1942.55 196.39,1949.39 199.68,1956.21 202.96,1963.00 206.24,1969.76 209.52,1976.48 212.79,1983.16 216.06,1989.79 219.32,1996.37 222.59,2002.90 225.84,2009.36 229.10,2015.76 232.35,2022.09 235.59,2028.35 238.84,2034.53 242.08,2040.62 245.31,2046.64 248.54,2052.57 251.77,2058.41 255.00,2064.15 258.22,2069.80 261.44,2075.35 264.65,2080.80 267.86,2086.15 271.07,2091.39 274.27,2096.53 277.47,2101.56 280.67,2106.47 283.86,2111.28 287.05,2115.98 290.24,2120.56 293.42,2125.03 296.60,2129.38 299.78,2133.62 302.95,2137.75 306.13,2141.76 309.29,2145.66 312.46,2149.44 315.62,2153.12 318.78,2156.68 321.93,2160.13 325.08,2163.46 328.23,2166.69 331.38,2169.81 334.52,2172.83 337.66,2175.74 340.80,2178.54 343.93,2181.24 347.06,2183.85 350.19,2186.35 353.32,2188.76 356.44,2191.07 359.56,2193.29 362.68,2195.43 365.79,2197.47 368.90,2199.43 372.01,2201.30 375.12,2203.09 378.23,2204.80 381.33,2206.44 384.43,2208.00 387.52,2209.49 390.62,2210.90 393.71,2212.25 396.80,2213.54 399.89,2214.76 402.97,2215.92 406.05,2217.02 409.13,2218.07 412.21,2219.06 415.29,2219.99 418.36,2220.88 421.43,2221.72 424.50,2222.52 427.57,2223.27 430.64,2223.97 433.70,2224.64 436.76,2225.27 439.82,2225.86 442.87,2226.42 445.93,2226.94 448.98,2227.43 452.03,2227.89 455.08,2228.33 458.13,2228.73 461.18,2229.11 464.22,2229.47 467.26,2229.80 470.30,2230.11 473.34,2230.40 476.38,2230.67 479.41,2230.93 482.44,2231.16 485.47,2231.38 488.50,2231.58 491.53,2231.77 494.56,2231.95 497.58,2232.11 500.61,2232.27 503.63,2232.41 506.65,2232.54 509.67,2232.66 512.69,2232.77 515.70,2232.87 518.72,2232.97 521.73,2233.05 524.74,2233.13 527.75,2233.21 530.76,2233.28 533.77,2233.34 536.77,2233.40 539.78,2233.45 542.78,2233.50 545.78,2233.55 548.78,2233.59 551.78,2233.62 554.78,2233.66 557.78,2233.69 560.78,2233.72 563.77,2233.75 566.76,2233.77 569.76,2233.79 572.75,2233.81 575.74,2233.83 578.73,2233.85 581.71,2233.86 584.70,2233.87 587.69,2233.89 590.67,2233.90 593.66,2233.91 596.64,2233.92 599.62,2233.93 602.60,2233.93 605.58,2233.94 608.56,2233.95 611.54,2233.95 614.51,2233.96 617.49,2233.96 620.46,2233.97 623.44,2233.97 626.41,2233.97 629.38,2233.98 632.35,2233.98 635.32,2233.98 638.29,2233.98 641.26,2233.98 644.23,2233.99 647.20,2233.99 650.16,2233.99 653.13,2233.99 656.09,2233.99 659.06,2233.99 662.02,2233.99 664.98,2233.99 667.94,2233.99 670.90,2234.00 673.86,2234.00 676.82,2234.00 679.78,2234.00 682.74,2234.00 685.70,2234.00 688.65,2234.00 691.61,2234.00 694.56,2234.00 697.52,2234.00 700.47,2234.00 703.43,2234.00 706.38,2234.00 709.33,2234.00 712.28,2234.00 715.23,2234.00 718.18,2234.00 721.13,2234.00 724.08,2234.00 727.03,2234.00 729.97,2234.00 732.92,2234.00 735.87,2234.00 738.81,2234.00 741.76,2234.00 744.70,2234.00 747.65,2234.00 750.59,2234.00 753.53,2234.00 756.48,2234.00 759.42,2234.00 762.36,2234.00 765.30,2234.00 768.24,2234.00 771.18,2234.00 774.12,2234.00 777.06,2234.00 780.00,2234.00 782.93,2234.00 785.87,2234.00 788.81,2234.00 791.75,2234.00 794.68,2234.00 797.62,2234.00 800.55,2234.00 803.49,2234.00 806.42,2234.00 809.35,2234.00 812.29,2234.00 815.22,2234.00 818.15,2234.00 821.09,2234.00 824.02,2234.00 826.95,2234.00 829.88,2234.00 832.81,2234.00 835.74,2234.00 838.67,2234.00 841.60,2234.00 844.53,2234.00 847.46,2234.00 850.39,2234.00 853.31,2234.00 856.24,2234.00 859.17,2234.00 862.09,2234.00 865.02,2234.00 867.95,2234.00 870.87,2234.00 873.80,2234.00 876.72,2234.00 879.65,2234.00 882.57,2234.00 885.50,2234.00 888.42,2234.00 891.34,2234.00 894.27,2234.00 897.19,2234.00 900.11,2234.00 903.03,2234.00 905.96,2234.00 908.88,2234.00 911.80,2234.00 914.72,2234.00 917.64,2234.00 920.56,2234.00" fill="none" stroke="#800000" stroke-width="2" stroke-linejoin="round" stroke-dasharray="4.7 2.5"/>
<polyline points="152.10,1693.58 155.42,1697.56 158.74,1701.65 162.07,1705.85 165.39,1710.17 168.72,1714.61 172.04,1719.16 175.37,1723.82 178.70,1728.60 182.03,1733.49 185.36,1738.49 188.70,1743.60 192.03,1748.82 195.37,1754.14 198.71,1759.58 202.04,1765.11 205.38,1770.74 208.73,1776.47 212.07,1782.30 215.41,1788.22 218.76,1794.23 222.10,1800.32 225.45,1806.50 228.80,1812.75 232.15,1819.08 235.50,1825.48 238.85,1831.95 242.21,1838.48 245.56,1845.07 248.92,1851.71 252.27,1858.40 255.63,1865.14 258.99,1871.92 262.35,1878.73 265.72,1885.57 269.08,1892.44 272.44,1899.32 275.81,1906.22 279.18,1913.13 282.55,1920.05 285.92,1926.96 289.29,1933.87 292.66,1940.76 296.03,1947.64 299.41,1954.50 302.78,1961.33 306.16,1968.13 309.54,1974.89 312.92,1981.61 316.30,1988.28 319.68,1994.90 323.06,2001.47 326.45,2007.97 329.83,2014.41 333.22,2020.78 336.61,2027.08 340.00,2033.31 343.39,2039.45 346.78,2045.51 350.17,2051.48 353.57,2057.36 356.96,2063.15 360.36,2068.84 363.75,2074.43 367.15,2079.92 370.55,2085.31 373.95,2090.59 377.35,2095.77 380.76,2100.83 384.16,2105.79 387.56,2110.63 390.97,2115.36 394.38,2119.98 397.79,2124.48 401.20,2128.87 404.61,2133.14 408.02,2137.30 411.43,2141.34 414.84,2145.27 418.26,2149.09 421.67,2152.78 425.09,2156.37 428.51,2159.84 431.93,2163.21 435.35,2166.46 438.77,2169.60 442.19,2172.63 445.62,2175.56 449.04,2178.39 452.46,2181.11 455.89,2183.73 459.32,2186.25 462.75,2188.67 466.18,2191.00 469.61,2193.23 473.04,2195.37 476.47,2197.43 479.90,2199.39 483.34,2201.28 486.77,2203.08 490.21,2204.80 493.64,2206.44 497.08,2208.01 500.52,2209.50 503.96,2210.92 507.40,2212.28 510.84,2213.57 514.29,2214.79 517.73,2215.96 521.17,2217.06 524.62,2218.11 528.07,2219.10 531.51,2220.04 534.96,2220.93 538.41,2221.77 541.86,2222.56 545.31,2223.31 548.76,2224.02 552.21,2224.69 555.67,2225.32 559.12,2225.91 562.58,2226.47 566.03,2226.99 569.49,2227.48 572.95,2227.94 576.40,2228.37 579.86,2228.78 583.32,2229.16 586.78,2229.51 590.25,2229.84 593.71,2230.15 597.17,2230.44 600.64,2230.71 604.10,2230.96 607.57,2231.20 611.03,2231.41 614.50,2231.62 617.97,2231.80 621.43,2231.98 624.90,2232.14 628.37,2232.29 631.84,2232.43 635.32,2232.56 638.79,2232.68 642.26,2232.79 645.73,2232.89 649.21,2232.98 652.68,2233.07 656.16,2233.15 659.64,2233.22 663.11,2233.29 666.59,2233.35 670.07,2233.41 673.55,2233.46 677.03,2233.51 680.51,2233.56 683.99,2233.60 687.47,2233.63 690.95,2233.67 694.44,2233.70 697.92,2233.73 701.40,2233.75 704.89,2233.78 708.38,2233.80 711.86,2233.82 715.35,2233.83 718.84,2233.85 722.32,2233.87 725.81,2233.88 729.30,2233.89 732.79,2233.90 736.28,2233.91 739.77,2233.92 743.27,2233.93 746.76,2233.94 750.25,2233.94 753.74,2233.95 757.24,2233.95 760.73,2233.96 764.23,2233.96 767.72,2233.97 771.22,2233.97 774.72,2233.97 778.21,2233.98 781.71,2233.98 785.21,2233.98 788.71,2233.98 792.21,2233.99 795.71,2233.99 799.21,2233.99 802.71,2233.99 806.21,2233.99 809.71,2233.99 813.21,2233.99 816.72,2233.99 820.22,2233.99 823.73,2234.00 827.23,2234.00 830.73,2234.00 834.24,2234.00 837.75,2234.00 841.25,2234.00 844.76,2234.00 848.27,2234.00 851.77,2234.00 855.28,2234.00 858.79,2234.00 862.30,2234.00 865.81,2234.00 869.32,2234.00 872.83,2234.00 876.34,2234.00 879.85,2234.00 883.36,2234.00 886.88,2234.00 890.39,2234.00 893.90,2234.00 897.42,2234.00 900.93,2234.00 904.44,2234.00 907.96,2234.00 911.47,2234.00 914.99,2234.00 918.51,2234.00 922.02,2234.00 925.54,2234.00 929.06,2234.00 932.57,2234.00 936.09,2234.00 939.61,2234.00 943.13,2234.00 946.65,2234.00 950.17,2234.00 953.69,2234.00 957.21,2234.00 960.73,2234.00 964.25,2234.00" fill="none" stroke="#800000" stroke-width="2" stroke-linejoin="round" stroke-dasharray="4.7 2.5"/>
<line x1="85.00" y1="1585.00" x2="85.00" y2="2253.45" stroke="#2e2e2e" stroke-width="3.4" />
<line x1="83.30" y1="2251.75" x2="985.00" y2="2251.75" stroke="#2e2e2e" stroke-width="3.4" />
<line x1="85.00" y1="2234.00" x2="102.40" y2="2234.00" stroke="#2e2e2e" stroke-width="2.1" />
<text x="76.00" y="2241.70" text-anchor="end" font-size="21.8" >0,0</text>
<line x1="85.00" y1="2107.85" x2="102.40" y2="2107.85" stroke="#2e2e2e" stroke-width="2.1" />
<text x="76.00" y="2115.55" text-anchor="end" font-size="21.8" >0,2</text>
<line x1="85.00" y1="1981.70" x2="102.40" y2="1981.70" stroke="#2e2e2e" stroke-width="2.1" />
<text x="76.00" y="1989.40" text-anchor="end" font-size="21.8" >0,4</text>
<line x1="85.00" y1="1855.55" x2="102.40" y2="1855.55" stroke="#2e2e2e" stroke-width="2.1" />
<text x="76.00" y="1863.25" text-anchor="end" font-size="21.8" >0,6</text>
<line x1="85.00" y1="1729.40" x2="102.40" y2="1729.40" stroke="#2e2e2e" stroke-width="2.1" />
<text x="76.00" y="1737.10" text-anchor="end" font-size="21.8" >0,8</text>
<line x1="85.00" y1="1603.25" x2="102.40" y2="1603.25" stroke="#2e2e2e" stroke-width="2.1" />
<text x="76.00" y="1610.95" text-anchor="end" font-size="21.8" >1,0</text>
<line x1="85.00" y1="2170.93" x2="93.30" y2="2170.93" stroke="#2e2e2e" stroke-width="1.8" />
<line x1="85.00" y1="2044.78" x2="93.30" y2="2044.78" stroke="#2e2e2e" stroke-width="1.8" />
<line x1="85.00" y1="1918.62" x2="93.30" y2="1918.62" stroke="#2e2e2e" stroke-width="1.8" />
<line x1="85.00" y1="1792.47" x2="93.30" y2="1792.47" stroke="#2e2e2e" stroke-width="1.8" />
<line x1="85.00" y1="1666.33" x2="93.30" y2="1666.33" stroke="#2e2e2e" stroke-width="1.8" />
<line x1="102.60" y1="2236.25" x2="102.60" y2="2251.75" stroke="#2e2e2e" stroke-width="2.6" />
<line x1="225.90" y1="2236.25" x2="225.90" y2="2251.75" stroke="#2e2e2e" stroke-width="2.6" />
<line x1="349.20" y1="2236.25" x2="349.20" y2="2251.75" stroke="#2e2e2e" stroke-width="2.6" />
<line x1="472.50" y1="2236.25" x2="472.50" y2="2251.75" stroke="#2e2e2e" stroke-width="2.6" />
<line x1="595.80" y1="2236.25" x2="595.80" y2="2251.75" stroke="#2e2e2e" stroke-width="2.6" />
<line x1="719.10" y1="2236.25" x2="719.10" y2="2251.75" stroke="#2e2e2e" stroke-width="2.6" />
<line x1="842.40" y1="2236.25" x2="842.40" y2="2251.75" stroke="#2e2e2e" stroke-width="2.6" />
<line x1="965.70" y1="2236.25" x2="965.70" y2="2251.75" stroke="#2e2e2e" stroke-width="2.6" />
<line x1="164.25" y1="2242.75" x2="164.25" y2="2251.75" stroke="#2e2e2e" stroke-width="1.9" />
<line x1="287.55" y1="2242.75" x2="287.55" y2="2251.75" stroke="#2e2e2e" stroke-width="1.9" />
<line x1="410.85" y1="2242.75" x2="410.85" y2="2251.75" stroke="#2e2e2e" stroke-width="1.9" />
<line x1="534.15" y1="2242.75" x2="534.15" y2="2251.75" stroke="#2e2e2e" stroke-width="1.9" />
<line x1="657.45" y1="2242.75" x2="657.45" y2="2251.75" stroke="#2e2e2e" stroke-width="1.9" />
<line x1="780.75" y1="2242.75" x2="780.75" y2="2251.75" stroke="#2e2e2e" stroke-width="1.9" />
<line x1="904.05" y1="2242.75" x2="904.05" y2="2251.75" stroke="#2e2e2e" stroke-width="1.9" />
<text x="97.50" y="2287.60" text-anchor="middle" font-size="21.8" >&lt; 1:20</text>
<text x="224.80" y="2287.60" text-anchor="middle" font-size="21.8" >1:20</text>
<text x="346.80" y="2287.60" text-anchor="middle" font-size="21.8" >1:40</text>
<text x="470.60" y="2287.60" text-anchor="middle" font-size="21.8" >1:80</text>
<text x="594.50" y="2287.60" text-anchor="middle" font-size="21.8" >1:160</text>
<text x="718.40" y="2287.60" text-anchor="middle" font-size="21.8" >1:320</text>
<text x="840.60" y="2287.60" text-anchor="middle" font-size="21.8" >1:640</text>
<text x="959.40" y="2287.60" text-anchor="middle" font-size="21.8" >≥<tspan dx="1.6">1:1280</tspan></text>
<text transform="translate(18.3,1913.7) rotate(-90)" text-anchor="middle" font-size="21.8" textLength="306.6" lengthAdjust="spacingAndGlyphs">probability positive virus culture</text>
<text x="543.4" y="2311.4" text-anchor="middle" font-size="21.8" textLength="307" lengthAdjust="spacingAndGlyphs">serum neutralizing antibody titer</text>
<text x="940.9" y="1621.6" text-anchor="middle" font-size="35" font-weight="bold" fill="#000" transform="translate(940.9,0) scale(0.825,1) translate(-940.9,0)">C</text>
</svg>
</body></html>
